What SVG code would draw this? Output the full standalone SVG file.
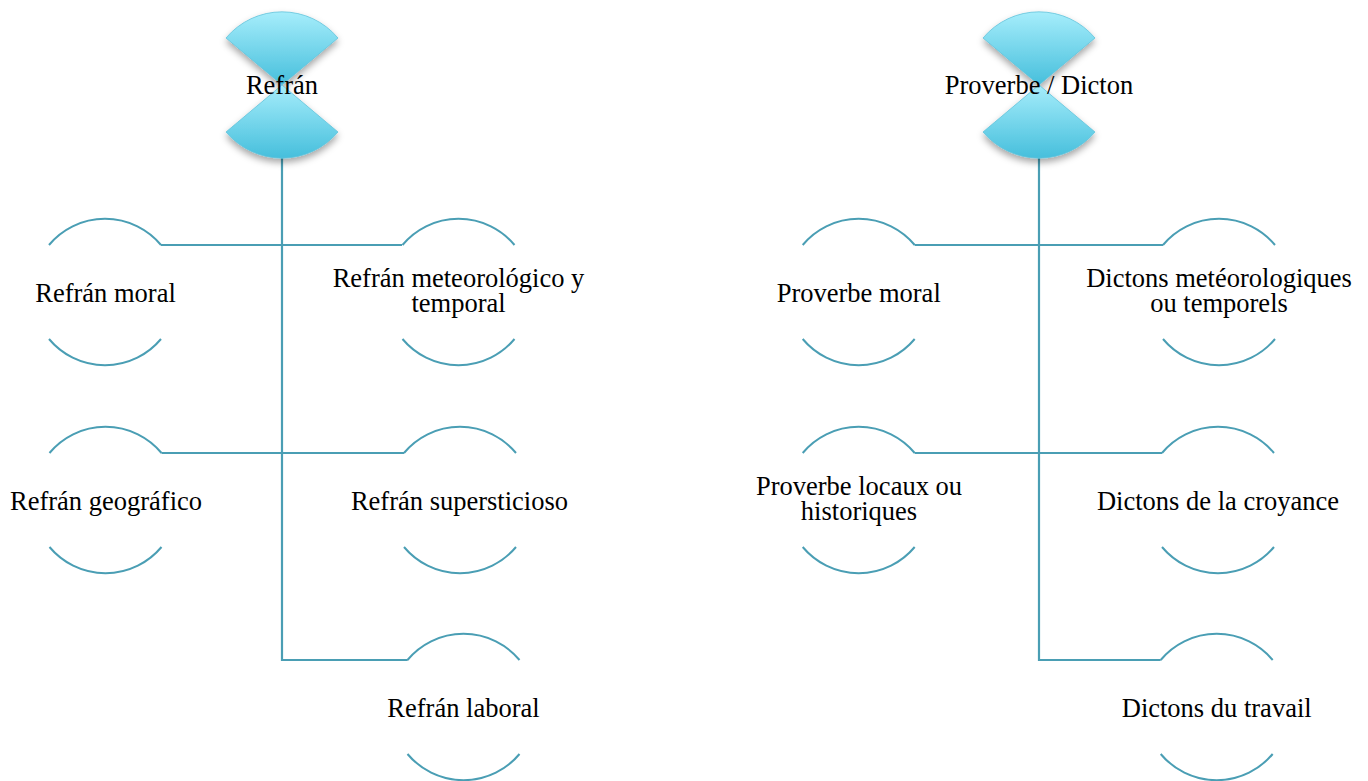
<svg xmlns="http://www.w3.org/2000/svg" width="1368" height="781" viewBox="0 0 1368 781">
<defs>
<linearGradient id="wg" x1="0" y1="0" x2="0" y2="1">
<stop offset="0" stop-color="#a6edfb"/>
<stop offset="1" stop-color="#46bfdc"/>
</linearGradient>
<filter id="sh" x="-30%" y="-30%" width="160%" height="170%">
<feDropShadow dx="0" dy="4" stdDeviation="3.5" flood-color="#000" flood-opacity="0.35"/>
</filter>
</defs>
<style>
.wedge{fill:url(#wg);stroke:#62c3da;stroke-width:0.8;filter:url(#sh)}
.arc{fill:none;stroke:#4a9eb4;stroke-width:2}
.conn{fill:none;stroke:#4a9eb4;stroke-width:2.2}
text{font-family:"Liberation Serif","Times New Roman",serif;font-size:26.5px;fill:#000;text-anchor:middle}
</style>
<rect width="1368" height="781" fill="#fff"/>

<g id="connectors">
<path class="conn" d="M282,158 V660 H407.7"/>
<path class="conn" d="M161,245 H402"/>
<path class="conn" d="M161.5,453 H404"/>
<path class="conn" d="M1039,158 V660 H1160.7"/>
<path class="conn" d="M914.7,245 H1163"/>
<path class="conn" d="M914.7,453 H1162"/>
</g>

<g id="root-refran">
<path class="wedge" d="M282,85 L226,38 A73,73 0 0,1 338,38 Z"/>
<path class="wedge" d="M282,85 L338,132 A73,73 0 0,1 226,132 Z"/>
<text x="282" y="94">Refrán</text>
</g>

<g id="root-proverbe">
<path class="wedge" d="M1039,85 L983,38 A73,73 0 0,1 1095,38 Z"/>
<path class="wedge" d="M1039,85 L1095,132 A73,73 0 0,1 983,132 Z"/>
<text x="1039" y="94">Proverbe / Dicton</text>
</g>

<g id="refran-moral">
<path class="arc" d="M49,245 A73,73 0 0,1 161,245"/>
<path class="arc" d="M161,339 A73,73 0 0,1 49,339"/>
<text x="105.5" y="301.5">Refrán moral</text>
</g>

<g id="refran-meteorologico">
<path class="arc" d="M402.5,245 A73,73 0 0,1 514.5,245"/>
<path class="arc" d="M514.5,339 A73,73 0 0,1 402.5,339"/>
<text x="458.5" y="286.8">Refrán meteorológico y</text>
<text x="458.5" y="312.3">temporal</text>
</g>

<g id="refran-geografico">
<path class="arc" d="M49.5,453 A73,73 0 0,1 161.5,453"/>
<path class="arc" d="M161.5,547 A73,73 0 0,1 49.5,547"/>
<text x="106" y="509.5">Refrán geográfico</text>
</g>

<g id="refran-supersticioso">
<path class="arc" d="M404,453 A73,73 0 0,1 516,453"/>
<path class="arc" d="M516,547 A73,73 0 0,1 404,547"/>
<text x="459.5" y="509.5">Refrán supersticioso</text>
</g>

<g id="refran-laboral">
<path class="arc" d="M407.5,660 A73,73 0 0,1 519.5,660"/>
<path class="arc" d="M519.5,754 A73,73 0 0,1 407.5,754"/>
<text x="463.5" y="716.5">Refrán laboral</text>
</g>

<g id="proverbe-moral">
<path class="arc" d="M802.7,245 A73,73 0 0,1 914.7,245"/>
<path class="arc" d="M914.7,339 A73,73 0 0,1 802.7,339"/>
<text x="858.7" y="301.5">Proverbe moral</text>
</g>

<g id="dictons-meteorologiques">
<path class="arc" d="M1163,245 A73,73 0 0,1 1275,245"/>
<path class="arc" d="M1275,339 A73,73 0 0,1 1163,339"/>
<text x="1219" y="286.8">Dictons metéorologiques</text>
<text x="1219" y="312.3">ou temporels</text>
</g>

<g id="proverbe-locaux">
<path class="arc" d="M802.7,453 A73,73 0 0,1 914.7,453"/>
<path class="arc" d="M914.7,547 A73,73 0 0,1 802.7,547"/>
<text x="859" y="494.8">Proverbe locaux ou</text>
<text x="859" y="520.3">historiques</text>
</g>

<g id="dictons-croyance">
<path class="arc" d="M1162,453 A73,73 0 0,1 1274,453"/>
<path class="arc" d="M1274,547 A73,73 0 0,1 1162,547"/>
<text x="1218" y="509.5">Dictons de la croyance</text>
</g>

<g id="dictons-travail">
<path class="arc" d="M1160.7,660 A73,73 0 0,1 1272.7,660"/>
<path class="arc" d="M1272.7,754 A73,73 0 0,1 1160.7,754"/>
<text x="1216.7" y="716.5">Dictons du travail</text>
</g>
</svg>
